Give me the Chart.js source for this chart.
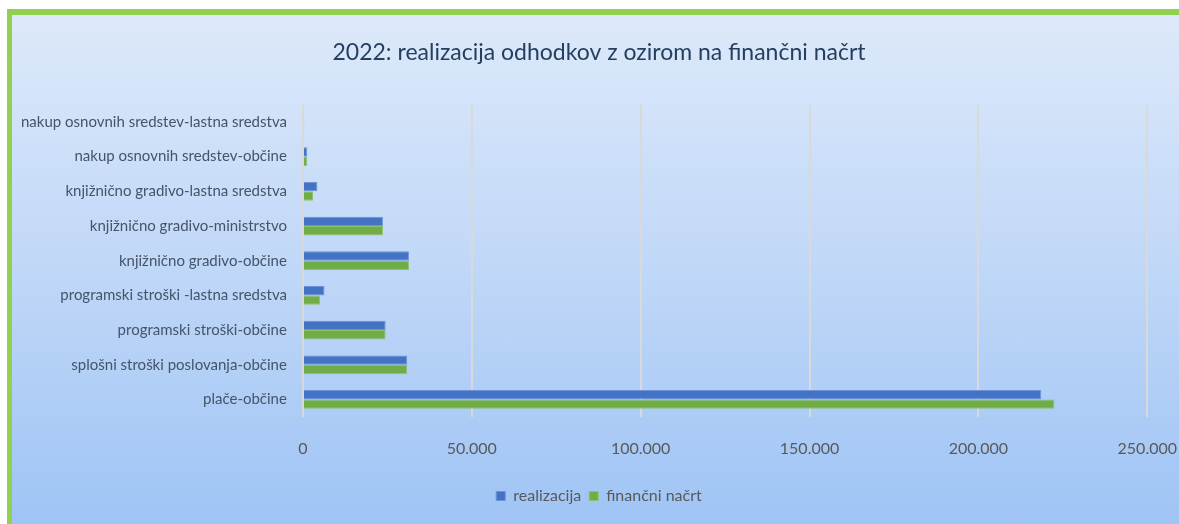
<!DOCTYPE html>
<html>
<head>
<meta charset="utf-8">
<script src="https://cdn.jsdelivr.net/npm/chart.js@4"></script>
<style>
  body { margin: 0; background: #fff; width: 1179px; height: 524px; overflow: hidden; }
  #frame {
    position: absolute; left: 7px; top: 9px; width: 1200px; height: 520px; overflow: hidden;
    border-left: 5px solid #92d050; border-top: 6px solid #92d050;
    background: linear-gradient(to bottom, #dde9fa 0%, #bcd5f7 55%, #9dc3f5 100%);
  }
  #wrap { position: absolute; left: -16px; top: 0; width: 1203px; height: 509px; }
</style>
</head>
<body>
<div id="frame"><div id="wrap"><canvas id="myChart"></canvas></div></div>
<script>
var categories = [
    "nakup osnovnih sredstev-lastna sredstva",
    "nakup osnovnih sredstev-občine",
    "knjižnično gradivo-lastna sredstva",
    "knjižnično gradivo-ministrstvo",
    "knjižnično gradivo-občine",
    "programski stroški -lastna sredstva",
    "programski stroški-občine",
    "splošni stroški poslovanja-občine",
    "plače-občine"
];
var realizacija = [0, 1300, 4300, 23700, 31400, 6400, 24500, 30900, 218600];
var financniNacrt = [400, 1300, 3000, 23700, 31400, 5100, 24500, 30900, 222500];
var xTicks = [0, 50000, 100000, 150000, 200000, 250000];

var labelFont = "Lato, 'Open Sans', sans-serif";

function fmt(v) {
    return String(v).replace(/\B(?=(\d{3})+(?!\d))/g, '.');
}

var ctx = document.getElementById("myChart").getContext('2d');
var myChart = new Chart(ctx, {
    type: 'bar',
    data: {
        labels: categories,
        datasets: [{
            label: 'realizacija',
            data: realizacija,
            backgroundColor: '#4472c4',
            borderColor: '#6d92d6',
            borderWidth: 1,
            categoryPercentage: 0.54,
            barPercentage: 1
        }, {
            label: 'finančni načrt',
            data: financniNacrt,
            backgroundColor: '#70ad47',
            borderColor: '#8fc26c',
            borderWidth: 1,
            categoryPercentage: 0.54,
            barPercentage: 1
        }]
    },
    options: {
        indexAxis: 'y',
        responsive: true,
        maintainAspectRatio: false,
        animation: false,
        layout: { padding: { left: 9, right: 6, top: 6, bottom: 10 } },
        plugins: {
            title: {
                display: true,
                text: '2022: realizacija odhodkov z ozirom na finančni načrt',
                color: '#243f60',
                font: { family: labelFont, size: 23, weight: 'normal' },
                padding: { top: 18, bottom: 38 }
            },
            legend: {
                position: 'bottom',
                labels: {
                    color: '#595959',
                    font: { family: labelFont, size: 16 },
                    boxWidth: 9,
                    boxHeight: 9,
                    padding: 8
                }
            },
            tooltip: { enabled: false }
        },
        scales: {
            x: {
                min: 0,
                max: 250000,
                afterBuildTicks: function (axis) {
                    axis.ticks = xTicks.map(function (v) { return { value: v }; });
                },
                ticks: {
                    color: '#595959',
                    font: { family: labelFont, size: 16 },
                    padding: 22,
                    callback: function (v) { return fmt(v); }
                },
                grid: { color: '#d9d9d9', lineWidth: 2, drawTicks: false },
                border: { display: false }
            },
            y: {
                ticks: {
                    color: '#44546a',
                    font: { family: labelFont, size: 15 },
                    padding: 16
                },
                grid: { display: false, drawTicks: false },
                border: { display: false }
            }
        }
    }
});
</script>
</body>
</html>
